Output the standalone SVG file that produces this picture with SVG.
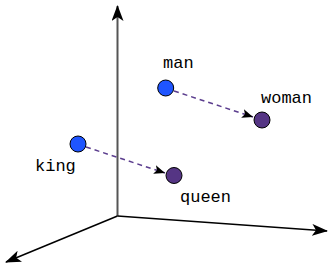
<svg xmlns="http://www.w3.org/2000/svg" width="330" height="269" viewBox="0 0 330 269">
<defs>
<marker id="ax" viewBox="0 0 16 12" refX="15" refY="6" markerWidth="16" markerHeight="12" markerUnits="userSpaceOnUse" orient="auto">
<path d="M0,0 L16,6 L0,12 L4,6 Z" fill="#000"/>
</marker>
<marker id="dv" viewBox="0 0 11 9" refX="11" refY="4.5" markerWidth="11" markerHeight="9" markerUnits="userSpaceOnUse" orient="auto">
<path d="M0,0 L11,4.5 L0,9 L2.5,4.5 Z" fill="#000"/>
</marker>
<style>
.axis{stroke:#000;stroke-width:1.5;fill:none}
.vaxis{stroke:#555;stroke-width:2;fill:none}
.vec{stroke:#5b3d8e;stroke-width:1.5;stroke-dasharray:5,4;fill:none}
.blue{fill:#1f55ff;stroke:#000;stroke-width:1}
.purple{fill:#553584;stroke:#000;stroke-width:1}
text{font-family:"Liberation Mono","Courier New",monospace;font-size:17px;fill:#000}
</style>
</defs>
<g id="connectors">
<line class="vaxis" x1="117.5" y1="216" x2="117.5" y2="6" marker-end="url(#ax)"/>
<line class="axis" x1="117.5" y1="216" x2="327" y2="231" marker-end="url(#ax)"/>
<line class="axis" x1="117.5" y1="216" x2="6" y2="262" marker-end="url(#ax)"/>
<line class="vec" x1="174" y1="91" x2="253" y2="117" marker-end="url(#dv)"/>
<line class="vec" x1="86" y1="147" x2="165" y2="173" marker-end="url(#dv)"/>
</g>
<g id="man"><circle class="blue" cx="165.7" cy="88" r="8"/><text x="163" y="68">man</text></g>
<g id="woman"><circle class="purple" cx="262" cy="120" r="8"/><text x="261" y="103">woman</text></g>
<g id="king"><circle class="blue" cx="78" cy="144" r="8"/><text x="35" y="171">king</text></g>
<g id="queen"><circle class="purple" cx="174" cy="175.5" r="8"/><text x="180" y="202">queen</text></g>
</svg>
